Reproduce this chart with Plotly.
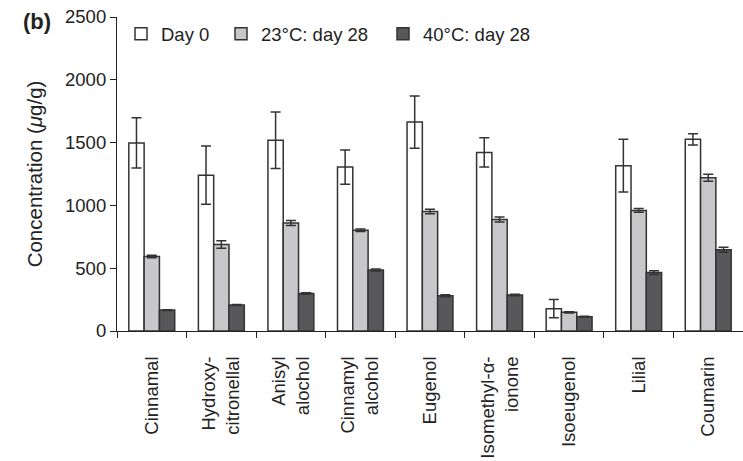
import plotly.graph_objects as go

categories = ["Cinnamal", "Hydroxy-<br>citronellal", "Anisyl<br>alochol", "Cinnamyl<br>alcohol",
              "Eugenol", "Isomethyl-α-<br>ionone", "Isoeugenol", "Lilial", "Coumarin"]
series_names = ["Day 0", "23°C: day 28", "40°C: day 28"]
day0 = [1497, 1241, 1518, 1305, 1664, 1422, 178, 1316, 1526]
day0_err = [200, 232, 225, 136, 208, 117, 72, 210, 45]
c23 = [593, 688, 859, 803, 951, 888, 149, 960, 1220]
c23_err = [10, 30, 20, 10, 18, 20, 5, 15, 28]
c40 = [167, 207, 298, 486, 281, 287, 114, 465, 646]
c40_err = [3, 3, 6, 8, 8, 6, 3, 15, 20]
y_ticks = [0, 500, 1000, 1500, 2000, 2500]

fills = ["#ffffff", "#c8c8ca", "#58585a"]
edge = "#333333"
FONT = "Arial, Liberation Sans, sans-serif"

fig = go.Figure()
legends = ["legend", "legend2", "legend3"]
for name, vals, errs, col, lg in zip(series_names, [day0, c23, c40], [day0_err, c23_err, c40_err], fills, legends):
    fig.add_trace(go.Bar(
        x=categories, y=vals, name=name, legend=lg, showlegend=True,
        marker=dict(color=col, line=dict(color=edge, width=1.5)),
        error_y=dict(type="data", array=errs, visible=True, color=edge, thickness=1.5, width=5),
    ))

leg_common = dict(orientation="h", bgcolor="rgba(0,0,0,0)", borderwidth=0,
                  font=dict(family=FONT, size=18.5, color="#222"),
                  yanchor="middle", y=0.945, xanchor="left")
fig.update_layout(
    width=743, height=461,
    showlegend=True,
    margin=dict(l=117, r=0, t=17, b=130),
    paper_bgcolor="white", plot_bgcolor="white",
    barmode="group", bargap=0.34, bargroupgap=0,
    font=dict(family=FONT, size=18, color="#222"),
    legend=dict(**leg_common, x=(161 - 40 - 117) / 626),
    legend2=dict(**leg_common, x=(261 - 40 - 117) / 626),
    legend3=dict(**leg_common, x=(423 - 40 - 117) / 626),
    xaxis=dict(
        showline=True, linecolor="#222", linewidth=1.2,
        ticks="outside", ticklen=6, tickcolor="#222", tickson="boundaries",
        tickangle=-90, tickfont=dict(family=FONT, size=18.5, color="#222"),
        ticklabelstandoff=17, showgrid=False,
    ),
    yaxis=dict(
        range=[0, 2500], tickvals=y_ticks, ticktext=[str(v) for v in y_ticks],
        showline=True, linecolor="#222", linewidth=1.2,
        ticks="outside", ticklen=6, tickcolor="#222",
        tickfont=dict(family=FONT, size=18.5, color="#222"),
        showgrid=False, zeroline=False,
        title=dict(text="Concentration (<i>μ</i>g/g)", font=dict(family=FONT, size=20.5, color="#222"), standoff=16),
    ),
    annotations=[dict(text="<b>(b)</b>", xref="paper", yref="paper",
                      x=(37 - 117) / 626, y=(331 - 21) / 314, xanchor="center", yanchor="middle",
                      showarrow=False, font=dict(family=FONT, size=22, color="#222"))],
)
fig.write_html("out.html")
